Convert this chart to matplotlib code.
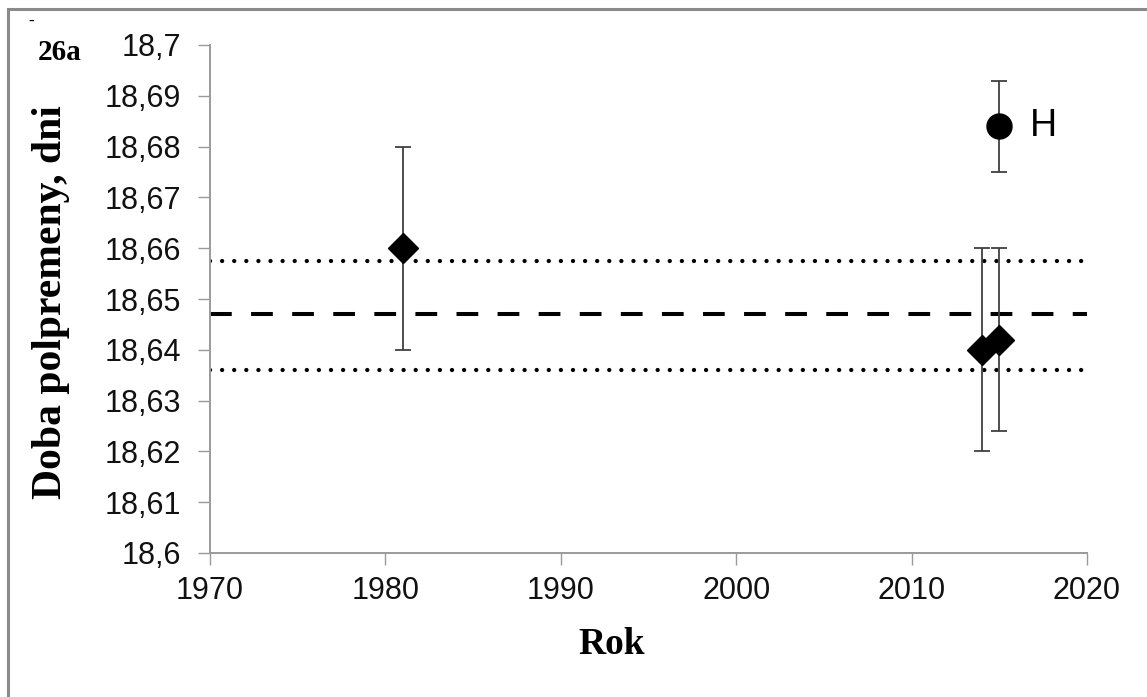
import matplotlib.pyplot as plt
from matplotlib.patches import Rectangle

# data
years = [1981, 2014, 2015]
half_life = [18.660, 18.640, 18.642]
err_low = [0.020, 0.020, 0.018]
err_high = [0.020, 0.020, 0.018]

h_year = [2015]
h_value = [18.684]
h_err = [0.009]

mean_line = 18.647
band = [18.6575, 18.636]

yticks = [18.6, 18.61, 18.62, 18.63, 18.64, 18.65, 18.66, 18.67, 18.68, 18.69, 18.7]
ytick_labels = ['18,6', '18,61', '18,62', '18,63', '18,64', '18,65', '18,66',
                '18,67', '18,68', '18,69', '18,7']
xticks = [1970, 1980, 1990, 2000, 2010, 2020]

W, H = 1147, 697
fig = plt.figure(figsize=(W / 100, H / 100), dpi=100)
ax = fig.add_axes([210 / W, 1 - 553 / H, 877 / W, 508 / H])

# reference lines
ax.plot([1970, 2020], [mean_line, mean_line], color='black', lw=2.9,
        linestyle=(0, (5.4, 4.8)), solid_capstyle='butt', dash_capstyle='butt')
for b in band:
    ax.plot([1970, 2020], [b, b], color='black', lw=3.1,
            linestyle=(0, (0.01, 2.8)), dash_capstyle='round')

ax.errorbar(years, half_life, yerr=[err_low, err_high], fmt='D', color='black',
            ms=15.5, ecolor='#404040', elinewidth=1.3, capsize=6, capthick=1.3, zorder=3)
ax.errorbar(h_year, h_value, yerr=h_err, fmt='o', color='black',
            ms=18, ecolor='#404040', elinewidth=1.3, capsize=5.5, capthick=1.3, zorder=3)
ax.text(2016.75, h_value[0], 'H', fontsize=27, family='Liberation Sans',
        va='center', ha='left')

ax.set_xlim(1970, 2020)
ax.set_ylim(18.6, 18.7)
ax.set_xticks(xticks)
ax.set_yticks(yticks)
ax.set_yticklabels(ytick_labels)
ax.set_xticklabels([str(x) for x in xticks])
for lbl in ax.get_xticklabels() + ax.get_yticklabels():
    lbl.set_family('Liberation Sans')
    lbl.set_fontsize(22)
    lbl.set_color('#111111')

for s in ['top', 'right']:
    ax.spines[s].set_visible(False)
for s in ['left', 'bottom']:
    ax.spines[s].set_color('#9a9a9a')
    ax.spines[s].set_linewidth(1.4)
ax.tick_params(axis='both', direction='out', length=8.6, width=1.0, color='#9a9a9a')
ax.tick_params(axis='y', pad=12)
ax.tick_params(axis='x', pad=8)

fig.text(51 / W, 1 - 302 / H, 'Doba polpremeny, dni', rotation=90, ha='center', va='center',
         family='Liberation Serif', weight='bold', fontsize=30)
fig.text(612 / W, 1 - 644 / H, 'Rok', ha='center', va='center',
         family='Liberation Serif', weight='bold', fontsize=27)
fig.text(60 / W, 1 - 53 / H, '26a', ha='center', va='center',
         family='Liberation Serif', weight='bold', fontsize=21)
fig.text(31 / W, 1 - 22 / H, '-', ha='center', va='center',
         family='Liberation Serif', weight='bold', fontsize=12)

# gray frame around the picture
fig.patches.append(Rectangle((8 / W, -0.05), 1.1, 1.05 - 9 / H, transform=fig.transFigure,
                             fill=False, edgecolor='#8a8a8a', lw=2.2))

fig.savefig('out.png', dpi=100)
